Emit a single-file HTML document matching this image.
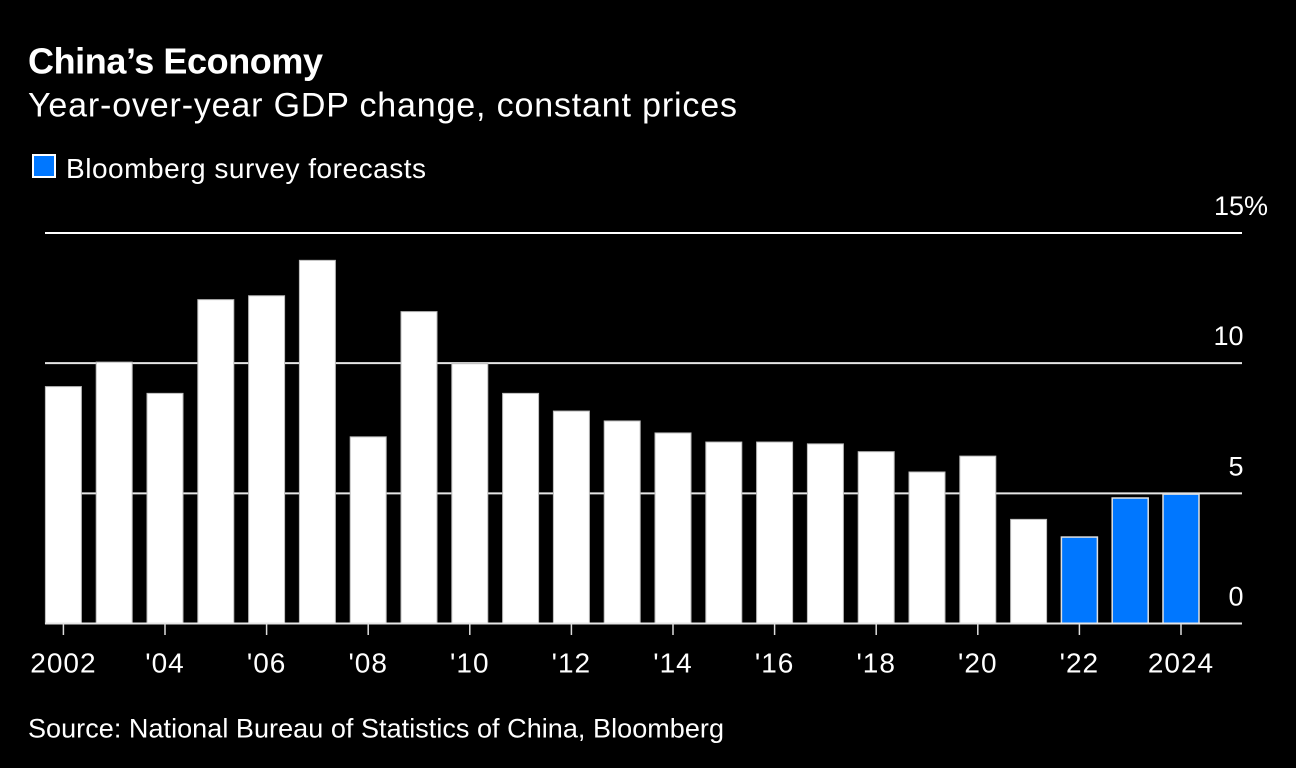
<!DOCTYPE html>
<html lang="en">
<head>
<meta charset="utf-8">
<title>China's Economy</title>
<style>
html,body{margin:0;padding:0;background:#000;width:1296px;height:768px;overflow:hidden}
svg{display:block}
text{font-family:"Liberation Sans",Arial,sans-serif;fill:#fff}
</style>
</head>
<body>
<svg id="chart" xmlns="http://www.w3.org/2000/svg" width="1296" height="768" viewBox="0 0 1296 768">
  <rect x="0" y="0" width="1296" height="768" fill="#000"/>
  <text x="28" y="73.5" font-size="36" font-weight="700" textLength="295" lengthAdjust="spacing">China’s Economy</text>
  <text x="28" y="116.5" font-size="34" textLength="709" lengthAdjust="spacing">Year-over-year GDP change, constant prices</text>
  <rect x="33" y="155" width="22" height="22" fill="#0077ff" stroke="#fff" stroke-width="2"/>
  <text x="66" y="178" font-size="28" textLength="360" lengthAdjust="spacing">Bloomberg survey forecasts</text>
  <g id="grid"></g>
  <g id="bars"></g>
  <g id="axis"></g>
  <text x="28" y="737.5" font-size="27" textLength="696" lengthAdjust="spacing">Source: National Bureau of Statistics of China, Bloomberg</text>
</svg>
<script>
const years = [2002,2003,2004,2005,2006,2007,2008,2009,2010,2011,2012,2013,2014,2015,2016,2017,2018,2019,2020,2021,2022,2023,2024];
const gdpChange = [9.1,10.04,8.84,12.44,12.59,13.95,7.17,11.98,9.98,8.84,8.16,7.78,7.32,6.97,6.97,6.9,6.6,5.82,6.43,4.0,3.32,4.82,4.97];
const forecastYears = [2022,2023,2024];
const yTicks = [0,5,10,15];
const yTickLabels = ['0','5','10','15%'];
const xTickYears = [2002,2004,2006,2008,2010,2012,2014,2016,2018,2020,2022,2024];
const xTickLabels = ['2002',"'04","'06","'08","'10","'12","'14","'16","'18","'20","'22",'2024'];

const NS = 'http://www.w3.org/2000/svg';
const plot = {left:45, right:1242, base:623.5, top:233, center0:63.4, step:50.8, barWidth:36};
function xScale(year){ return plot.center0 + (year - years[0]) * plot.step; }
function yScale(v){ return plot.base - v * (plot.base - plot.top) / 15; }
function make(tag, attrs, parent){
  const el = document.createElementNS(NS, tag);
  for (const k in attrs) el.setAttribute(k, attrs[k]);
  parent.appendChild(el);
  return el;
}
const gridG = document.getElementById('grid');
const barsG = document.getElementById('bars');
const axisG = document.getElementById('axis');

yTicks.forEach(function(t, i){
  const y = yScale(t);
  const line = make('line', {x1:plot.left, x2:plot.right, y1:y, y2:y, stroke:t === 15 ? '#fff' : '#e6e6e6', 'stroke-width':2}, t === 0 ? axisG : gridG);
  
  
  const label = make('text', {x:1243.5, y:y - 18, 'font-size':27, 'text-anchor':'end'}, axisG);
  label.textContent = yTickLabels[i];
  if (t === 15) {
    label.setAttribute('x', 1214);
    label.setAttribute('text-anchor', 'start');
  }
  
  
});

years.forEach(function(yr, i){
  const top = yScale(gdpChange[i]);
  const isForecast = forecastYears.indexOf(yr) >= 0;
  const bar = make('rect', {
    x: xScale(yr) - plot.barWidth / 2,
    y: top,
    width: plot.barWidth,
    height: plot.base - top,
    fill: isForecast ? '#0077ff' : '#fff',
    stroke: isForecast ? '#e0e0e0' : '#bbb',
    'stroke-width': isForecast ? 1.5 : 1
  }, barsG);
  
  
});

xTickYears.forEach(function(yr, i){
  const x = xScale(yr);
  const tick = make('line', {x1:x, x2:x, y1:plot.base, y2:635, stroke:'#ddd', 'stroke-width':1.5}, axisG);
  
  
  const label = make('text', {x:x, y:672.5, 'font-size':28, 'text-anchor':'middle', 'letter-spacing':1}, axisG);
  label.textContent = xTickLabels[i];
  
  
});
</script>
</body>
</html>
